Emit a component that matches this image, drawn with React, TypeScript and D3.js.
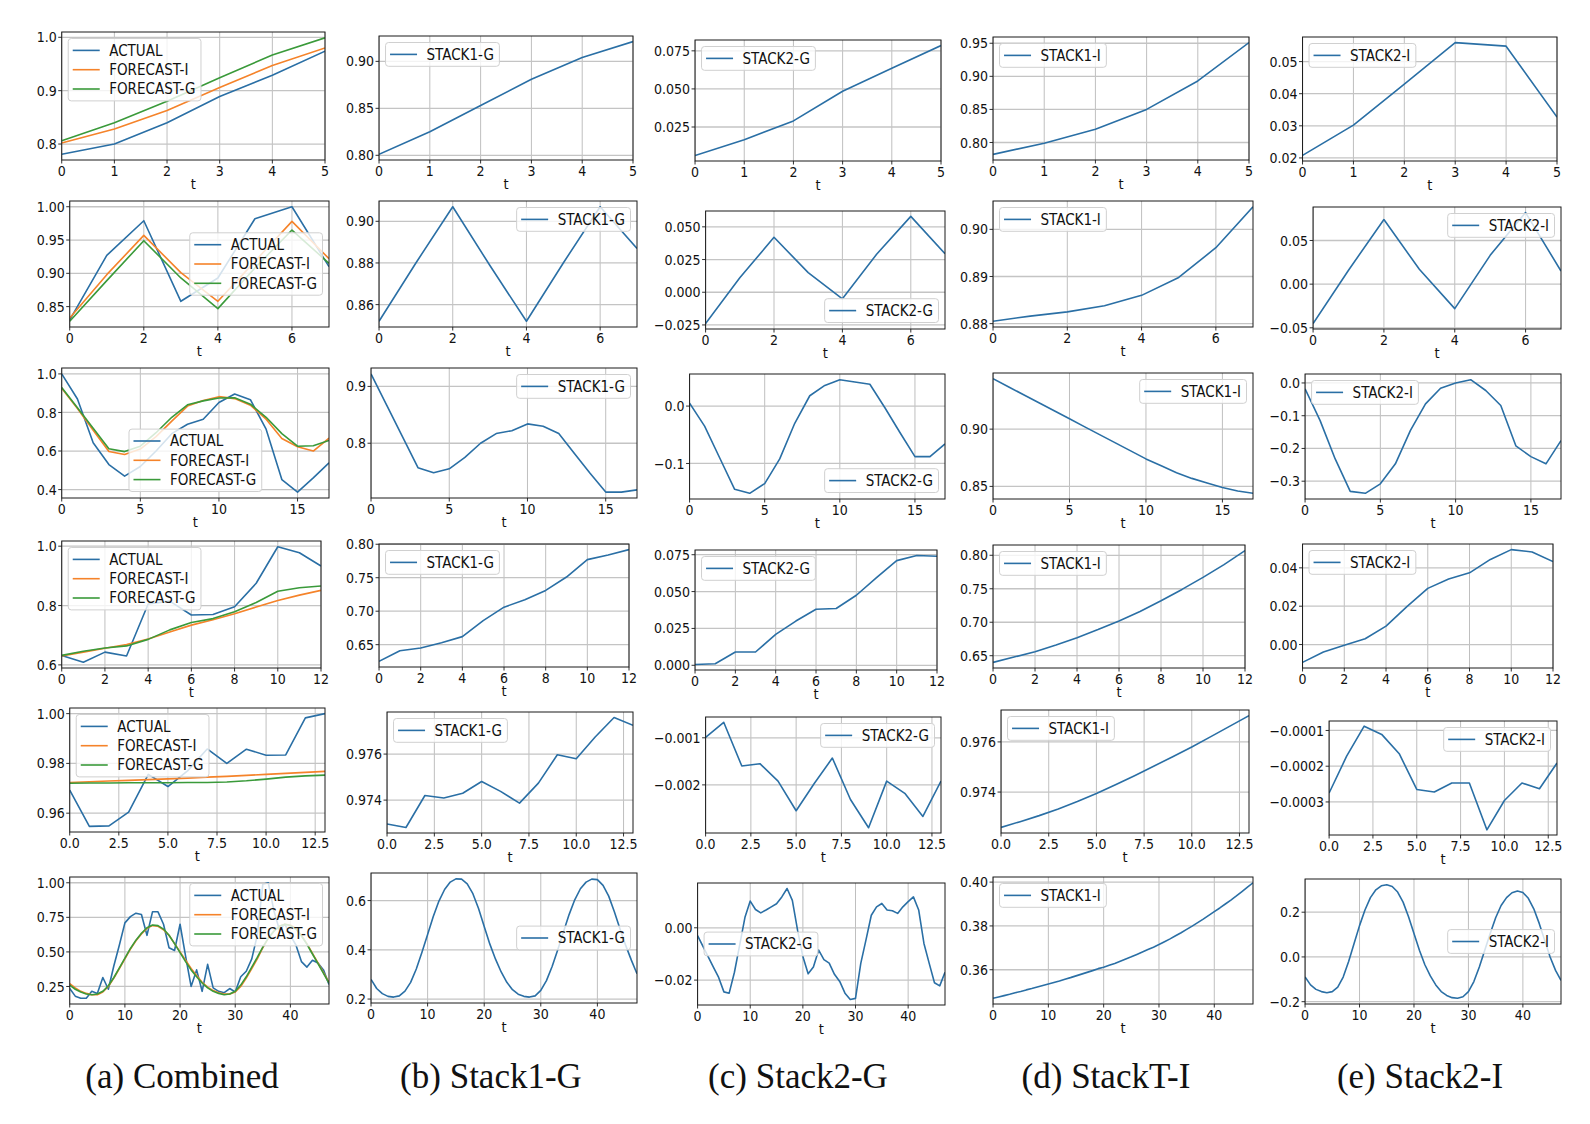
import React from 'react';
import * as d3 from 'd3';

// ---- series, one array per panel (index = t) ----

// row 1
const r1Actual = [0.781, 0.8, 0.84, 0.889, 0.929, 0.974];
const r1ForecastI = [0.802, 0.828, 0.863, 0.906, 0.947, 0.98];
const r1ForecastG = [0.806, 0.84, 0.88, 0.924, 0.967, 0.999];
const r1Stack1G = [0.801, 0.825, 0.853, 0.881, 0.904, 0.921];
const r1Stack2G = [0.0063, 0.0167, 0.029, 0.0485, 0.0636, 0.0785];
const r1Stack1I = [0.782, 0.799, 0.82, 0.85, 0.893, 0.951];
const r1Stack2I = [0.0208, 0.0302, 0.043, 0.0559, 0.0548, 0.0327];

// row 2
const r2Actual = [0.83, 0.927, 0.979, 0.858, 0.893, 0.982, 1.0, 0.91];
const r2ForecastI = [0.833, 0.898, 0.957, 0.901, 0.858, 0.918, 0.978, 0.922];
const r2ForecastG = [0.828, 0.889, 0.949, 0.893, 0.847, 0.908, 0.965, 0.915];
const r2Stack1G = [0.852, 0.88, 0.907, 0.879, 0.852, 0.88, 0.907, 0.887];
const r2Stack2G = [-0.024, 0.011, 0.042, 0.015, -0.005, 0.029, 0.058, 0.0295];
const r2Stack1I = [0.8805, 0.8816, 0.8825, 0.8838, 0.886, 0.8898, 0.8961, 0.9048];
const r2Stack2I = [-0.045, 0.016, 0.074, 0.017, -0.028, 0.033, 0.082, 0.015];

// row 3
const r3Actual = [1.0, 0.87, 0.643, 0.53, 0.47, 0.52, 0.6, 0.69, 0.739, 0.765, 0.852, 0.896, 0.866, 0.713, 0.452, 0.387, 0.461, 0.539];
const r3ForecastI = [0.925, 0.82, 0.708, 0.598, 0.582, 0.61, 0.675, 0.755, 0.833, 0.862, 0.882, 0.872, 0.838, 0.765, 0.665, 0.622, 0.6, 0.667];
const r3ForecastG = [0.93, 0.825, 0.718, 0.612, 0.597, 0.625, 0.695, 0.775, 0.84, 0.86, 0.875, 0.876, 0.843, 0.775, 0.69, 0.625, 0.627, 0.655];
const r3Stack1G = [0.922, 0.867, 0.812, 0.757, 0.748, 0.755, 0.775, 0.8, 0.817, 0.822, 0.834, 0.83, 0.817, 0.782, 0.747, 0.714, 0.714, 0.718];
const r3Stack2G = [0.005, -0.035, -0.09, -0.145, -0.152, -0.135, -0.092, -0.03, 0.018, 0.036, 0.046, 0.042, 0.038, -0.003, -0.046, -0.088, -0.088, -0.066];
const r3Stack1I = [0.944, 0.937, 0.93, 0.923, 0.916, 0.909, 0.902, 0.895, 0.888, 0.881, 0.874, 0.868, 0.862, 0.857, 0.853, 0.849, 0.846, 0.844];
const r3Stack2I = [-0.018, -0.115, -0.232, -0.331, -0.337, -0.308, -0.247, -0.145, -0.064, -0.016, 0.0, 0.01, -0.023, -0.069, -0.192, -0.225, -0.247, -0.176];

// row 4
const r4Actual = [0.632, 0.609, 0.643, 0.63, 0.805, 0.815, 0.768, 0.77, 0.796, 0.875, 0.998, 0.978, 0.933];
const r4ForecastI = [0.63, 0.643, 0.656, 0.669, 0.687, 0.711, 0.734, 0.752, 0.772, 0.795, 0.817, 0.835, 0.851];
const r4ForecastG = [0.632, 0.646, 0.657, 0.664, 0.686, 0.718, 0.743, 0.756, 0.779, 0.81, 0.848, 0.86, 0.866];
const r4Stack1G = [0.625, 0.641, 0.645, 0.653, 0.662, 0.686, 0.706, 0.717, 0.731, 0.751, 0.777, 0.784, 0.792];
const r4Stack2G = [0.0005, 0.001, 0.009, 0.009, 0.021, 0.03, 0.038, 0.0385, 0.0475, 0.0595, 0.071, 0.0745, 0.074];
const r4Stack1I = [0.64, 0.648, 0.656, 0.666, 0.677, 0.689, 0.702, 0.716, 0.732, 0.749, 0.767, 0.786, 0.807];
const r4Stack2I = [-0.0093, -0.0039, -0.0004, 0.003, 0.0096, 0.0198, 0.0293, 0.0342, 0.0374, 0.0444, 0.0495, 0.0483, 0.0433];

// row 5
const r5Actual = [0.9693, 0.9547, 0.9549, 0.9604, 0.9756, 0.9707, 0.977, 0.9858, 0.98, 0.9857, 0.9833, 0.9834, 0.9983, 1.0];
const r5ForecastI = [0.9723, 0.9726, 0.9729, 0.9732, 0.9735, 0.9738, 0.9741, 0.9745, 0.9748, 0.9752, 0.9756, 0.976, 0.9764, 0.9768];
const r5ForecastG = [0.972, 0.9721, 0.9721, 0.9722, 0.9722, 0.9722, 0.9723, 0.9723, 0.9725, 0.973, 0.9737, 0.9745, 0.975, 0.9753];
const r5Stack1G = [0.97296, 0.97281, 0.9742, 0.97409, 0.9743, 0.97481, 0.97438, 0.97387, 0.97474, 0.97597, 0.9758, 0.97674, 0.97759, 0.97725];
const r5Stack2G = [-0.00099, -0.00067, -0.0016, -0.00155, -0.00192, -0.00255, -0.00197, -0.00143, -0.00231, -0.00291, -0.00192, -0.00218, -0.00267, -0.00192];
const r5Stack1I = [0.97259, 0.97282, 0.97306, 0.97332, 0.97362, 0.97394, 0.97429, 0.97465, 0.97503, 0.97541, 0.9758, 0.97621, 0.97663, 0.97705];
const r5Stack2I = [-0.000275, -0.000172, -0.000088, -0.000111, -0.000165, -0.000265, -0.000272, -0.000247, -0.000247, -0.000378, -0.000296, -0.000247, -0.000263, -0.000191];

// row 6
const r6Actual = [
  0.235, 0.18, 0.165, 0.165, 0.215, 0.2, 0.315, 0.23, 0.4, 0.55,
  0.71, 0.755, 0.78, 0.77, 0.62, 0.79, 0.79, 0.7, 0.53, 0.51,
  0.7, 0.47, 0.25, 0.37, 0.215, 0.41, 0.24, 0.215, 0.205, 0.235,
  0.21, 0.32, 0.36, 0.45, 0.62, 0.99, 1.0, 0.8, 0.66, 0.7,
  0.62, 0.55, 0.43, 0.39, 0.44, 0.42, 0.37, 0.265,
];
const r6ForecastI = [
  0.27, 0.24, 0.215, 0.2, 0.19, 0.19, 0.21, 0.25, 0.31, 0.38,
  0.45, 0.52, 0.58, 0.63, 0.67, 0.69, 0.685, 0.66, 0.62, 0.56,
  0.5, 0.44, 0.38, 0.33, 0.28, 0.245, 0.22, 0.205, 0.195, 0.195,
  0.21, 0.25, 0.31, 0.38, 0.45, 0.53, 0.6, 0.65, 0.685, 0.7,
  0.695, 0.67, 0.62, 0.56, 0.49, 0.42, 0.35, 0.28,
];
const r6ForecastG = [
  0.26, 0.23, 0.21, 0.195, 0.19, 0.195, 0.215, 0.255, 0.315, 0.385,
  0.455, 0.525, 0.585, 0.635, 0.675, 0.695, 0.69, 0.665, 0.62, 0.56,
  0.495, 0.43, 0.37, 0.32, 0.275, 0.24, 0.215, 0.2, 0.19, 0.195,
  0.215, 0.26, 0.32, 0.39, 0.46, 0.535, 0.6, 0.65, 0.685, 0.7,
  0.69, 0.665, 0.615, 0.555, 0.485, 0.415, 0.345, 0.275,
];
const r6Stack1G = [
  0.28, 0.243, 0.222, 0.211, 0.208, 0.213, 0.232, 0.268, 0.322, 0.39,
  0.462, 0.535, 0.598, 0.645, 0.675, 0.688, 0.687, 0.668, 0.628, 0.568,
  0.495, 0.423, 0.362, 0.31, 0.268, 0.238, 0.22, 0.211, 0.208, 0.213,
  0.235, 0.275, 0.332, 0.4, 0.472, 0.543, 0.603, 0.648, 0.675, 0.687,
  0.685, 0.662, 0.618, 0.555, 0.485, 0.418, 0.358, 0.303,
];
const r6Stack2G = [
  -0.003, -0.007, -0.011, -0.015, -0.019, -0.0245, -0.025, -0.017, -0.0065, 0.004,
  0.0102, 0.007, 0.0057, 0.0068, 0.008, 0.0092, 0.0118, 0.015, 0.0105, -0.001,
  -0.011, -0.0176, -0.015, -0.0085, -0.0122, -0.0135, -0.0178, -0.0205, -0.025, -0.0274,
  -0.027, -0.0136, -0.0045, 0.0048, 0.008, 0.0093, 0.0068, 0.0065, 0.0055, 0.008,
  0.01, 0.0118, 0.0068, -0.006, -0.0136, -0.021, -0.0222, -0.017,
];
const r6Stack1I = [
  0.347, 0.3476, 0.3482, 0.3488, 0.3495, 0.3501, 0.3508, 0.3514, 0.3521, 0.3528,
  0.3535, 0.3542, 0.3549, 0.3557, 0.3564, 0.3572, 0.358, 0.3588, 0.3596, 0.3605,
  0.3611, 0.362, 0.3629, 0.3639, 0.3649, 0.3659, 0.367, 0.3681, 0.3692, 0.3703,
  0.3715, 0.3728, 0.3741, 0.3755, 0.3769, 0.3784, 0.3799, 0.3815, 0.3831, 0.3848,
  0.3865, 0.3882, 0.39, 0.3918, 0.3937, 0.3957, 0.3977, 0.3997,
];
const r6Stack2I = [
  -0.09, -0.125, -0.145, -0.155, -0.16, -0.155, -0.135, -0.09, -0.02, 0.06,
  0.14, 0.21, 0.265, 0.3, 0.318, 0.323, 0.315, 0.29, 0.245, 0.18,
  0.105, 0.03, -0.035, -0.085, -0.125, -0.155, -0.172, -0.182, -0.185, -0.178,
  -0.155, -0.11, -0.045, 0.03, 0.105, 0.175, 0.23, 0.265, 0.287, 0.295,
  0.288, 0.262, 0.215, 0.15, 0.075, 0.0, -0.06, -0.105,
];

// ---- tick labels ----
const rowXTicks = [
  ['0', '1', '2', '3', '4', '5'],
  ['0', '2', '4', '6'],
  ['0', '5', '10', '15'],
  ['0', '2', '4', '6', '8', '10', '12'],
  ['0.0', '2.5', '5.0', '7.5', '10.0', '12.5'],
  ['0', '10', '20', '30', '40'],
];

const r1YTicks = [['0.8', '0.9', '1.0'], ['0.80', '0.85', '0.90'], ['0.025', '0.050', '0.075'], ['0.80', '0.85', '0.90', '0.95'], ['0.02', '0.03', '0.04', '0.05']];
const r2YTicks = [['0.85', '0.90', '0.95', '1.00'], ['0.86', '0.88', '0.90'], ['−0.025', '0.000', '0.025', '0.050'], ['0.88', '0.89', '0.90'], ['−0.05', '0.00', '0.05']];
const r3YTicks = [['0.4', '0.6', '0.8', '1.0'], ['0.8', '0.9'], ['−0.1', '0.0'], ['0.85', '0.90'], ['−0.3', '−0.2', '−0.1', '0.0']];
const r4YTicks = [['0.6', '0.8', '1.0'], ['0.65', '0.70', '0.75', '0.80'], ['0.000', '0.025', '0.050', '0.075'], ['0.65', '0.70', '0.75', '0.80'], ['0.00', '0.02', '0.04']];
const r5YTicks = [['0.96', '0.98', '1.00'], ['0.974', '0.976'], ['−0.002', '−0.001'], ['0.974', '0.976'], ['−0.0003', '−0.0002', '−0.0001']];
const r6YTicks = [['0.25', '0.50', '0.75', '1.00'], ['0.2', '0.4', '0.6'], ['−0.02', '0.00'], ['0.36', '0.38', '0.40'], ['−0.2', '0.0', '0.2']];

const columnTitles = ['(a) Combined', '(b) Stack1-G', '(c) Stack2-G', '(d) StackT-I', '(e) Stack2-I'];

// ---- styling / layout ----
const BLUE = '#2a6fa5';
const ORANGE = '#f5832a';
const GREEN = '#3a9a3a';

const FONT = '"DejaVu Sans Condensed", "DejaVu Sans", sans-serif';
const TICK_SIZE = 14;
const LEGEND_SIZE = 15;

// left edge of the y tick labels and right edge of the frame, per column
const COL_LABEL_X = [36.7, 346, 654, 960, 1269.5];
const COL_RIGHT = [325, 633, 941, 1249, 1557];
const ROW_RIGHT_SHIFT = [0, 4, 4, -4, 0, 4];
const PANEL_TOP = [
  [32, 36, 40, 37, 37],
  [201, 201, 211, 201, 207],
  [368, 368, 374, 373, 374],
  [541, 544, 550, 545, 544],
  [708, 712, 717, 710, 721],
  [877, 873, 883, 877, 879],
];
const PANEL_BOTTOM = [
  [160, 160, 161, 160, 161],
  [327, 327, 329, 327, 329],
  [498, 498, 499, 499, 499],
  [668, 667, 670, 668, 668],
  [832, 833, 833, 833, 835],
  [1004, 1003, 1005, 1004, 1004],
];
type Loc = 'ul' | 'ur' | 'lr' | 'cr' | 'cl' | 'lc';
const LEGEND_LOC: Loc[][] = [
  ['ul', 'ul', 'ul', 'ul', 'ul'],
  ['cr', 'ur', 'lr', 'ul', 'ur'],
  ['lc', 'ur', 'lr', 'ur', 'ul'],
  ['ul', 'ul', 'ul', 'ul', 'ul'],
  ['ul', 'ul', 'ur', 'ul', 'ur'],
  ['ur', 'cr', 'cl', 'ul', 'cr'],
];
const TITLE_X = [182, 491, 798, 1106, 1420];

interface Series {
  name: string;
  values: number[];
  color: string;
}

const combined = (a: number[], fi: number[], fg: number[]): Series[] => [
  { name: 'ACTUAL', values: a, color: BLUE },
  { name: 'FORECAST-I', values: fi, color: ORANGE },
  { name: 'FORECAST-G', values: fg, color: GREEN },
];
const single = (name: string, v: number[]): Series[] => [{ name, values: v, color: BLUE }];

const rowSeries = (a: number[], fi: number[], fg: number[], s1g: number[], s2g: number[], s1i: number[], s2i: number[]) => [
  combined(a, fi, fg),
  single('STACK1-G', s1g),
  single('STACK2-G', s2g),
  single('STACK1-I', s1i),
  single('STACK2-I', s2i),
];

const grid: Series[][][] = [
  rowSeries(r1Actual, r1ForecastI, r1ForecastG, r1Stack1G, r1Stack2G, r1Stack1I, r1Stack2I),
  rowSeries(r2Actual, r2ForecastI, r2ForecastG, r2Stack1G, r2Stack2G, r2Stack1I, r2Stack2I),
  rowSeries(r3Actual, r3ForecastI, r3ForecastG, r3Stack1G, r3Stack2G, r3Stack1I, r3Stack2I),
  rowSeries(r4Actual, r4ForecastI, r4ForecastG, r4Stack1G, r4Stack2G, r4Stack1I, r4Stack2I),
  rowSeries(r5Actual, r5ForecastI, r5ForecastG, r5Stack1G, r5Stack2G, r5Stack1I, r5Stack2I),
  rowSeries(r6Actual, r6ForecastI, r6ForecastG, r6Stack1G, r6Stack2G, r6Stack1I, r6Stack2I),
];
const yTicksByRow = [r1YTicks, r2YTicks, r3YTicks, r4YTicks, r5YTicks, r6YTicks];

const parseTick = (s: string) => +s.replace('−', '-');

let measureCtx: CanvasRenderingContext2D | null = null;
function textWidth(s: string, size: number) {
  if (!measureCtx) measureCtx = document.createElement('canvas').getContext('2d');
  if (!measureCtx) return s.length * size * 0.55;
  measureCtx.font = `${size}px ${FONT}`;
  return measureCtx.measureText(s).width;
}

const Panel: React.FC<{ row: number; col: number }> = ({ row, col }) => {
  const series = grid[row][col];
  const yTicks = yTicksByRow[row][col];
  const xTicks = rowXTicks[row];
  const top = PANEL_TOP[row][col];
  const bottom = PANEL_BOTTOM[row][col];
  const right = COL_RIGHT[col] + ROW_RIGHT_SHIFT[row];
  const labelW = d3.max(yTicks, (t) => textWidth(t, TICK_SIZE)) || 0;
  const left = COL_LABEL_X[col] + labelW + 5;

  const n = series[0].values.length;
  const x = d3.scaleLinear().domain([0, n - 1]).range([left, right]);
  // matplotlib-style autoscale: data extent plus 5% margin
  const [lo, hi] = d3.extent(series.flatMap((s) => s.values)) as [number, number];
  const pad = (hi - lo) * 0.05;
  const y = d3.scaleLinear().domain([lo - pad, hi + pad]).range([bottom, top]);
  const line = d3.line<number>().x((_, i) => x(i)).y((v) => y(v));

  // legend box
  const rowH = 19.3;
  const textW = d3.max(series, (s) => textWidth(s.name, LEGEND_SIZE)) || 0;
  const lw = 4.5 + 27 + 9.5 + textW + 5.5;
  const lh = series.length * rowH + 4.5;
  const gap = 6.5;
  const loc = LEGEND_LOC[row][col];
  const mid = (top + bottom) / 2;
  let lx = left + gap;
  let ly = top + gap;
  if (loc === 'ur' || loc === 'lr' || loc === 'cr') lx = right - gap - lw;
  if (loc === 'lc') lx = (left + right) / 2 - lw / 2;
  if (loc === 'lr' || loc === 'lc') ly = bottom - gap - lh;
  if (loc === 'cr' || loc === 'cl') ly = mid - lh / 2;

  const clipId = `clip-${row}-${col}`;

  return (
    <g>
      <defs>
        <clipPath id={clipId}>
          <rect x={left} y={top} width={right - left} height={bottom - top} />
        </clipPath>
      </defs>
      {/* grid */}
      {xTicks.map((t) => (
        <line key={'gx' + t} x1={x(parseTick(t))} x2={x(parseTick(t))} y1={top} y2={bottom} stroke="#b8b8b8" strokeWidth={0.9} />
      ))}
      {yTicks.map((t) => (
        <line key={'gy' + t} x1={left} x2={right} y1={y(parseTick(t))} y2={y(parseTick(t))} stroke="#c4c4c4" strokeWidth={1.3} />
      ))}
      {/* series */}
      <g clipPath={`url(#${clipId})`}>
        {series.map((s) => (
          <path key={s.name} d={line(s.values) || ''} fill="none" stroke={s.color} strokeWidth={1.6} strokeLinejoin="round" />
        ))}
      </g>
      {/* frame */}
      <rect x={left} y={top} width={right - left} height={bottom - top} fill="none" stroke="#1a1a1a" strokeWidth={1} />
      {/* x axis */}
      {xTicks.map((t) => (
        <g key={'tx' + t} transform={`translate(${x(parseTick(t))},${bottom})`}>
          <line y1={0} y2={3.5} stroke="#1a1a1a" strokeWidth={0.9} />
          <text y={15.5} textAnchor="middle" fontSize={TICK_SIZE} fontFamily={FONT} fill="#111">
            {t}
          </text>
        </g>
      ))}
      <text x={(left + right) / 2} y={bottom + 28.5} textAnchor="middle" fontSize={14.5} fontFamily={FONT} fill="#111">
        t
      </text>
      {/* y axis */}
      {yTicks.map((t) => (
        <g key={'ty' + t} transform={`translate(${left},${y(parseTick(t))})`}>
          <line x1={-3.5} x2={0} stroke="#1a1a1a" strokeWidth={0.9} />
          <text x={-5} dy="0.36em" textAnchor="end" fontSize={TICK_SIZE} fontFamily={FONT} fill="#111">
            {t}
          </text>
        </g>
      ))}
      {/* legend */}
      <g transform={`translate(${lx},${ly})`}>
        <rect width={lw} height={lh} rx={3} fill="#fff" fillOpacity={0.8} stroke="#d0d0d0" strokeWidth={1} />
        {series.map((s, i) => {
          const cy = 2.25 + rowH * (i + 0.5);
          return (
            <g key={s.name}>
              <line x1={4.5} x2={31.5} y1={cy} y2={cy} stroke={s.color} strokeWidth={1.6} />
              <text x={41} y={cy} dy="0.36em" fontSize={LEGEND_SIZE} fontFamily={FONT} fill="#111">
                {s.name}
              </text>
            </g>
          );
        })}
      </g>
    </g>
  );
};

const App: React.FC = () => {
  const W = 1590;
  const H = 1124;
  return (
    <svg width={W} height={H} style={{ position: 'absolute', left: 0, top: 0, display: 'block' }}>
      <rect width={W} height={H} fill="#fff" />
      {grid.map((r, ri) => r.map((_, ci) => <Panel key={`${ri}-${ci}`} row={ri} col={ci} />))}
      {columnTitles.map((t, i) => (
        <text key={t} x={TITLE_X[i]} y={1088} textAnchor="middle" fontSize={35} fontFamily='"Liberation Serif", "Times New Roman", serif' fill="#111">
          {t}
        </text>
      ))}
    </svg>
  );
};

export default App;
